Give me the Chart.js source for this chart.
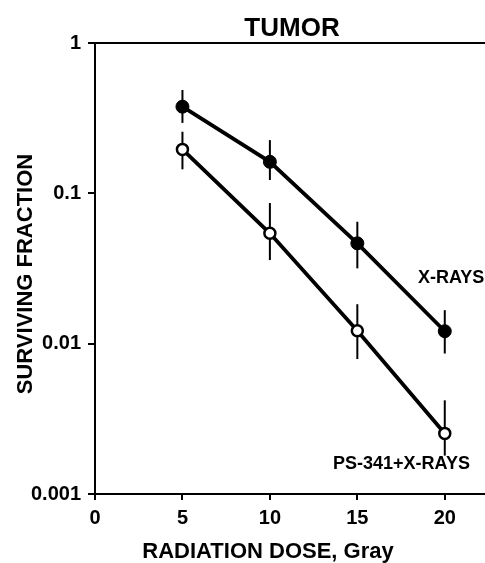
<!DOCTYPE html>
<html>
<head>
<meta charset="utf-8">
<script src="https://cdn.jsdelivr.net/npm/chart.js@4/dist/chart.umd.min.js"></script>
<style>
  body { margin: 0; background: #fff; }
  #wrap { width: 485px; height: 563px; }
</style>
</head>
<body>
<div id="wrap"><canvas id="chart" width="485" height="563"></canvas></div>
<script>
// Radiation dose (Gray)
const dose = [5, 10, 15, 20];

// X-rays alone (filled circles)
const xrays = [0.377, 0.162, 0.0465, 0.0121];
const xraysHi = [0.487, 0.226, 0.0647, 0.0167];
const xraysLo = [0.294, 0.1226, 0.0317, 0.0086];

// PS-341 + X-rays (open circles)
const ps = [0.196, 0.0542, 0.0122, 0.00253];
const psHi = [0.257, 0.0862, 0.0183, 0.0042];
const psLo = [0.1445, 0.036, 0.0079, 0.0018];

// axis ticks
const xTicks = [0, 5, 10, 15, 20];
const yTicks = [0.001, 0.01, 0.1, 1];

const FONT = "'Liberation Sans', Arial, Helvetica, sans-serif";

const toPoints = (xs, ys) => xs.map((x, i) => ({ x, y: ys[i] }));

// error bars, drawn under the markers
const errorBars = {
  id: 'errorBars',
  beforeDatasetsDraw(chart) {
    const ctx = chart.ctx;
    const xs = chart.scales.x, ys = chart.scales.y;
    const sets = [[xraysHi, xraysLo], [psHi, psLo]];
    ctx.save();
    ctx.strokeStyle = '#000';
    ctx.lineWidth = 2;
    sets.forEach(([hi, lo]) => {
      dose.forEach((d, i) => {
        const px = xs.getPixelForValue(d);
        ctx.beginPath();
        ctx.moveTo(px, ys.getPixelForValue(hi[i]));
        ctx.lineTo(px, ys.getPixelForValue(lo[i]));
        ctx.stroke();
      });
    });
    ctx.restore();
  }
};

// frame top line, titles, series labels
const decorations = {
  id: 'decorations',
  afterDraw(chart) {
    const ctx = chart.ctx;
    const area = chart.chartArea;
    ctx.save();
    ctx.strokeStyle = '#000';
    ctx.lineWidth = 2;
    ctx.beginPath();
    ctx.moveTo(area.left, area.top);
    ctx.lineTo(chart.width, area.top);
    ctx.stroke();

    ctx.fillStyle = '#000';
    ctx.textBaseline = 'alphabetic';

    ctx.font = 'bold 26px ' + FONT;
    ctx.textAlign = 'center';
    ctx.fillText('TUMOR', 292, 36);

    ctx.font = 'bold 22px ' + FONT;
    ctx.fillText('RADIATION DOSE, Gray', 268, 558);

    ctx.save();
    ctx.translate(32, 274);
    ctx.rotate(-Math.PI / 2);
    ctx.fillText('SURVIVING FRACTION', 0, 0);
    ctx.restore();

    ctx.font = 'bold 18px ' + FONT;
    ctx.textAlign = 'left';
    ctx.fillText('X-RAYS', 418, 283);
    ctx.fillText('PS-341+X-RAYS', 333, 469);
    ctx.restore();
  }
};

new Chart(document.getElementById('chart'), {
  type: 'line',
  data: {
    datasets: [
      {
        label: 'X-RAYS',
        data: toPoints(dose, xrays),
        borderColor: '#000',
        borderWidth: 3.8,
        pointRadius: 6.5,
        pointBackgroundColor: '#000',
        pointBorderColor: '#000',
        pointBorderWidth: 1,
        tension: 0
      },
      {
        label: 'PS-341+X-RAYS',
        data: toPoints(dose, ps),
        borderColor: '#000',
        borderWidth: 3.8,
        pointRadius: 5.5,
        pointBackgroundColor: '#fff',
        pointBorderColor: '#000',
        pointBorderWidth: 2.5,
        tension: 0
      }
    ]
  },
  options: {
    responsive: false,
    animation: false,
    layout: { autoPadding: false, padding: { top: 43, left: 0, right: 0, bottom: 0 } },
    plugins: {
      legend: { display: false },
      tooltip: { enabled: false },
      title: { display: false }
    },
    scales: {
      x: {
        type: 'linear',
        min: 0,
        max: 22.3,
        afterBuildTicks: (s) => { s.ticks = xTicks.map(v => ({ value: v })); },
        afterFit: (s) => {
          s.height = 69;
          s.paddingLeft = 0; s.paddingRight = 0;
        },
        border: { display: true, color: '#000', width: 2 },
        grid: { drawOnChartArea: false, drawTicks: true, tickLength: 6, color: '#000', lineWidth: 2 },
        ticks: {
          color: '#000',
          padding: 6,
          maxRotation: 0,
          autoSkip: false,
          font: { family: FONT, size: 20, weight: 'bold' },
          callback: (v) => String(v)
        }
      },
      y: {
        type: 'logarithmic',
        min: 0.001,
        max: 1,
        afterBuildTicks: (s) => { s.ticks = yTicks.map(v => ({ value: v })); },
        afterFit: (s) => {
          s.width = 95;
          s.paddingTop = 0; s.paddingBottom = 0;
        },
        border: { display: true, color: '#000', width: 2 },
        grid: { drawOnChartArea: false, drawTicks: true, tickLength: 7, color: '#000', lineWidth: 2 },
        ticks: {
          color: '#000',
          padding: 7,
          autoSkip: false,
          font: { family: FONT, size: 20, weight: 'bold' },
          callback: (v) => String(v)
        }
      }
    }
  },
  plugins: [errorBars, decorations]
});
</script>
</body>
</html>
